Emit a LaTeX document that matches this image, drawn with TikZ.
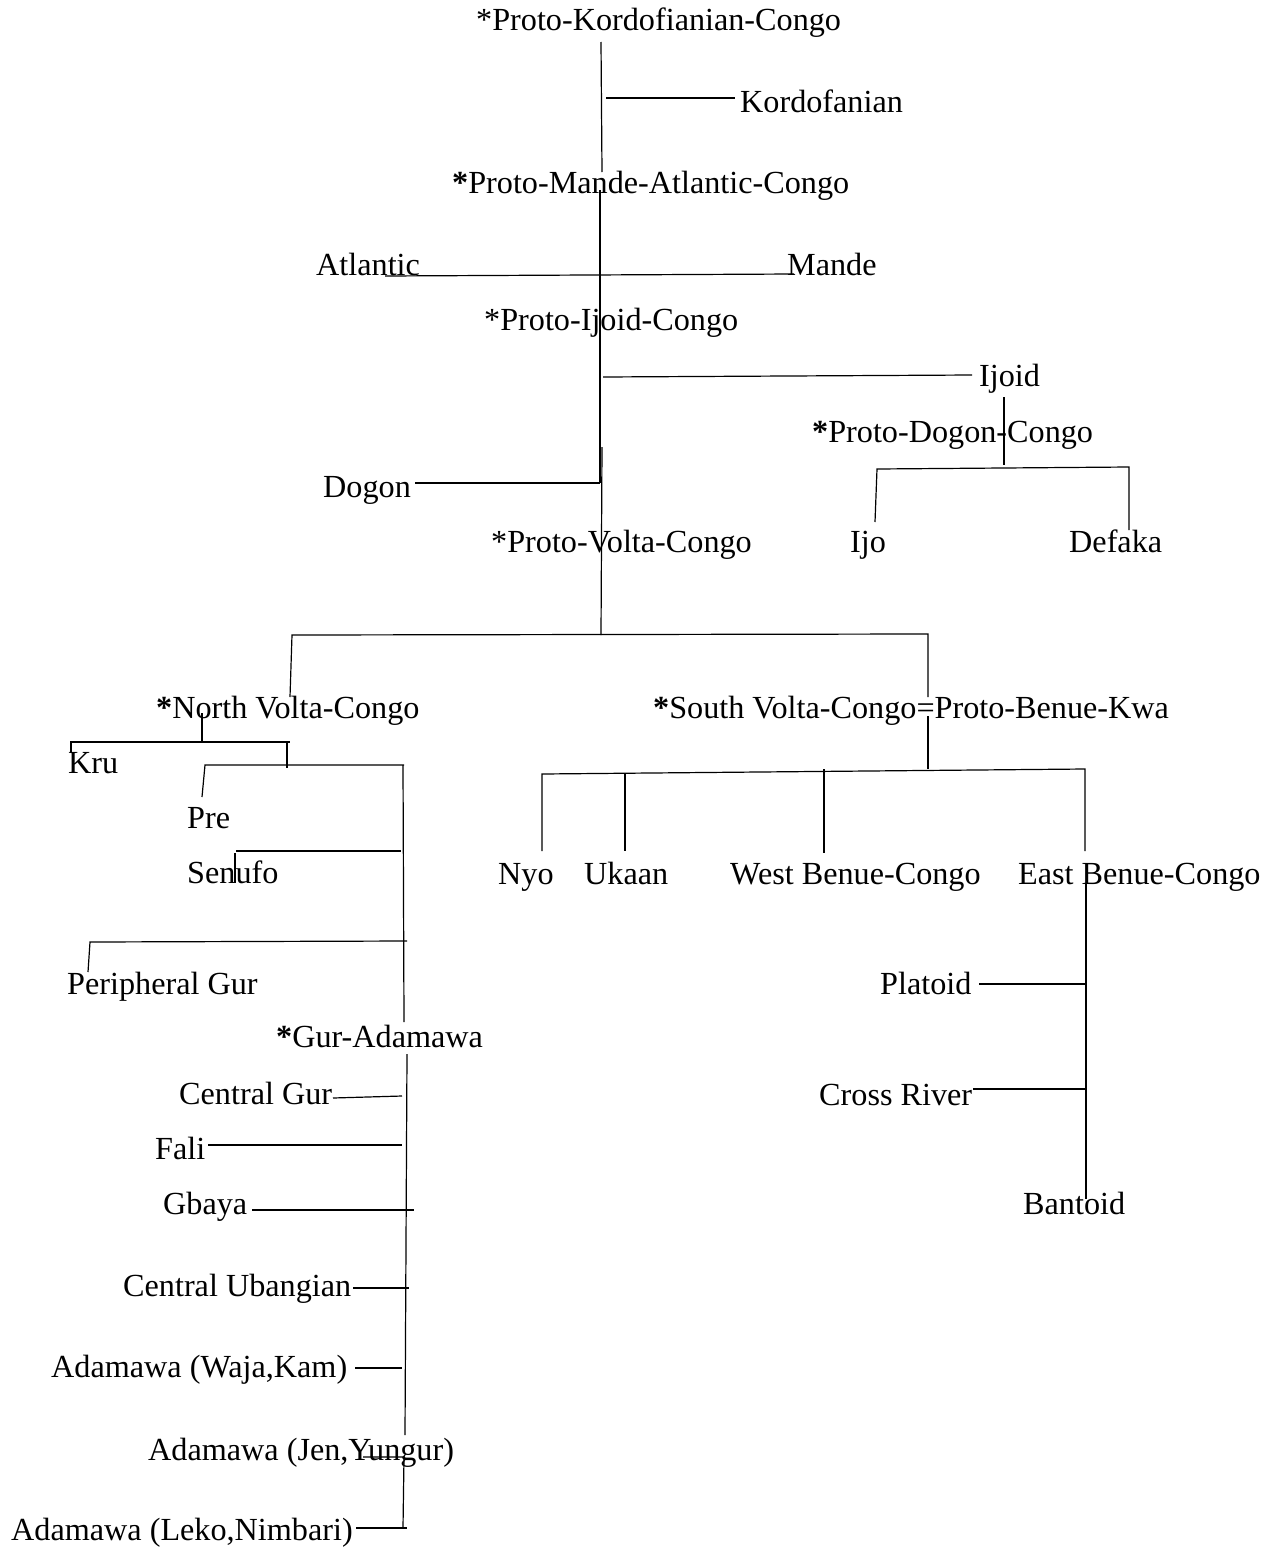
\documentclass[tikz,border=0pt]{standalone}
\usepackage{fontspec}
\setmainfont{Liberation Serif}

\tikzset{
  lbl/.style={anchor=base west, inner sep=0pt, font=\fontsize{32.2}{38}\selectfont},
  br/.style={line width=1.2pt, black}
}

\begin{document}
\begin{tikzpicture}[x=1pt, y=-1pt]
\useasboundingbox (0,0) rectangle (1273,1550);

% ---------- labels ----------
\node[lbl] (pkc)     at (476,30)   {*Proto-Kordofianian-Congo};
\node[lbl] (kord)    at (740,112)  {Kordofanian};
\node[lbl] (pmac)    at (452,193)  {\textbf{*}Proto-Mande-Atlantic-Congo};
\node[lbl] (atl)     at (316,275)  {Atlantic};
\node[lbl] (mande)   at (787,275)  {Mande};
\node[lbl] (pic)     at (484,330)  {*Proto-Ijoid-Congo};
\node[lbl] (ijoid)   at (979,386)  {Ijoid};
\node[lbl] (pdc)     at (812,442)  {\textbf{*}Proto-Dogon-Congo};
\node[lbl] (dogon)   at (323,497)  {Dogon};
\node[lbl] (pvc)     at (491,552)  {*Proto-Volta-Congo};
\node[lbl] (ijo)     at (850,552)  {Ijo};
\node[lbl] (defaka)  at (1069,552) {Defaka};
\node[lbl] (nvc)     at (156,718)  {\textbf{*}North Volta-Congo};
\node[lbl] (svc)     at (653,718)  {\textbf{*}South Volta-Congo=Proto-Benue-Kwa};
\node[lbl] (kru)     at (68,773)   {Kru};
\node[lbl] (pre)     at (187,828)  {Pre};
\node[lbl] (senufo)  at (187,883)  {Senufo};
\node[lbl] (nyo)     at (498,884)  {Nyo};
\node[lbl] (ukaan)   at (584,884)  {Ukaan};
\node[lbl] (wbc)     at (730,884)  {West Benue-Congo};
\node[lbl] (ebc)     at (1018,884) {East Benue-Congo};
\node[lbl] (pgur)    at (67,994)   {Peripheral Gur};
\node[lbl] (platoid) at (880,994)  {Platoid};
\node[lbl] (guradam) at (276,1047) {\textbf{*}Gur-Adamawa};
\node[lbl] (cgur)    at (179,1104) {Central Gur};
\node[lbl] (cross)   at (819,1105) {Cross River};
\node[lbl] (fali)    at (155,1159) {Fali};
\node[lbl] (gbaya)   at (163,1214) {Gbaya};
\node[lbl] (bantoid) at (1023,1214) {Bantoid};
\node[lbl] (cub)     at (123,1296) {Central Ubangian};
\node[lbl] (waja)    at (51,1377)  {Adamawa (Waja,Kam)};
\node[lbl] (jen)     at (148,1460) {Adamawa (Jen,Yungur)};
\node[lbl] (leko)    at (11,1540)  {Adamawa (Leko,Nimbari)};

% ---------- junction points ----------
% main trunk
\coordinate (t0) at (601,42);   \coordinate (t1) at (602,172);
\coordinate (t2) at (600,190);  \coordinate (t3) at (600,483);
\coordinate (t4) at (602,447);  \coordinate (t5) at (601,635);
% side branches off the trunk
\coordinate (kA) at (606,98);   \coordinate (kB) at (735,98);
\coordinate (aA) at (385,276);  \coordinate (aB) at (794,274);
\coordinate (iA) at (603,377);  \coordinate (iB) at (972,375);
\coordinate (dA) at (415,483);
% Ijoid split
\coordinate (iC) at (1004,397); \coordinate (iD) at (1004,465);
\coordinate (iE) at (877,469);  \coordinate (iF) at (1129,467);
\coordinate (iG) at (875,522);  \coordinate (iH) at (1129,530);
% Volta-Congo split
\coordinate (vA) at (292,635);  \coordinate (vB) at (928,634);
\coordinate (vC) at (290,697);  \coordinate (vD) at (928,697);
% North Volta-Congo
\coordinate (nA) at (202,713);  \coordinate (nB) at (202,743);
\coordinate (nC) at (71,742);   \coordinate (nD) at (290,742);
\coordinate (nE) at (71,752);
\coordinate (nF) at (287,743);  \coordinate (nG) at (287,768);
\coordinate (pA) at (205,765);  \coordinate (pB) at (404,765);
\coordinate (pC) at (202,797);
\coordinate (sA) at (236,851);  \coordinate (sB) at (401,851);
\coordinate (sC) at (235,853);  \coordinate (sD) at (235,883);
\coordinate (gA) at (90,942);   \coordinate (gB) at (407,941);
\coordinate (gC) at (88,972);
\coordinate (mA) at (403,765);  \coordinate (mB) at (404,1022);
\coordinate (mC) at (407,1054); \coordinate (mD) at (405,1435);
% Gur-Adamawa branches
\coordinate (cA) at (333,1098); \coordinate (cB) at (402,1096);
\coordinate (fA) at (208,1145); \coordinate (fB) at (402,1145);
\coordinate (bA) at (252,1210); \coordinate (bB) at (414,1210);
\coordinate (uA) at (353,1288); \coordinate (uB) at (409,1288);
\coordinate (wA) at (355,1368); \coordinate (wB) at (402,1368);
\coordinate (jA) at (363,1457); \coordinate (jB) at (404,1457);
\coordinate (jC) at (403,1528);
\coordinate (lA) at (356,1528); \coordinate (lB) at (407,1528);
% South Volta-Congo
\coordinate (qA) at (928,716);  \coordinate (qB) at (928,769);
\coordinate (qC) at (542,774);  \coordinate (qD) at (1085,769);
\coordinate (qE) at (542,851);
\coordinate (qF) at (625,773);  \coordinate (qG) at (625,851);
\coordinate (qH) at (824,769);  \coordinate (qI) at (824,853);
\coordinate (qJ) at (1085,851);
\coordinate (eA) at (1086,884); \coordinate (eB) at (1086,1199);
\coordinate (eC) at (979,984);  \coordinate (eD) at (1085,984);
\coordinate (eE) at (973,1089); \coordinate (eF) at (1085,1089);

% ---------- connectors ----------
\draw[br] (t0) -- (t1);
\draw[br] (t2) -- (t3);
\draw[br] (t4) -- (t5);
\draw[br] (kA) -- (kB);
\draw[br] (aA) -- (aB);
\draw[br] (iA) -- (iB);
\draw[br] (dA) -- (t3);

\draw[br] (iC) -- (iD);
\draw[br] (iG) -- (iE) -- (iF) -- (iH);

\draw[br] (vC) -- (vA) -- (vB) -- (vD);

\draw[br] (nA) -- (nB);
\draw[br] (nE) -- (nC) -- (nD);
\draw[br] (nF) -- (nG);
\draw[br] (pC) -- (pA) -- (pB);
\draw[br] (sA) -- (sB);
\draw[br] (sC) -- (sD);
\draw[br] (gC) -- (gA) -- (gB);
\draw[br] (mA) -- (mB);
\draw[br] (mC) -- (mD);

\draw[br] (cA) -- (cB);
\draw[br] (fA) -- (fB);
\draw[br] (bA) -- (bB);
\draw[br] (uA) -- (uB);
\draw[br] (wA) -- (wB);
\draw[br] (jA) -- (jB) -- (jC);
\draw[br] (lA) -- (lB);

\draw[br] (qA) -- (qB);
\draw[br] (qE) -- (qC) -- (qD) -- (qJ);
\draw[br] (qF) -- (qG);
\draw[br] (qH) -- (qI);
\draw[br] (eA) -- (eB);
\draw[br] (eC) -- (eD);
\draw[br] (eE) -- (eF);
\end{tikzpicture}
\end{document}
